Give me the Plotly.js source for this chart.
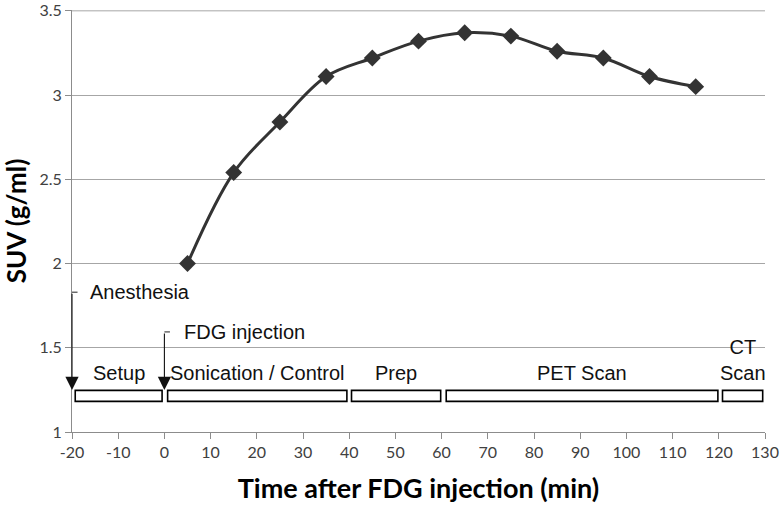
<!DOCTYPE html>
<html>
<head>
<meta charset="utf-8">
<script src="https://cdn.plot.ly/plotly-3.0.1.min.js"></script>
<style>html,body{margin:0;padding:0;background:#fff;}#chart{width:780px;height:507px;}</style>
</head>
<body>
<div id="chart"></div>
<script>
// ---- data ----
const timeMin = [5, 15, 25, 35, 45, 55, 65, 75, 85, 95, 105, 115];
const suv = [2.00, 2.54, 2.84, 3.11, 3.22, 3.32, 3.37, 3.35, 3.26, 3.22, 3.11, 3.05];

const phaseLabels = ['Setup', 'Sonication / Control', 'Prep', 'PET Scan', 'CT<br>Scan'];
const phaseStart = [-19.3, 0.7, 40.5, 61.0, 120.8];
const phaseEnd = [-0.5, 39.5, 59.8, 119.8, 129.5];

const eventLabels = ['Anesthesia', 'FDG injection'];
const eventTimes = [-20, 0];
const eventLevels = [1.83, 1.594];

const xTicks = [-20, -10, 0, 10, 20, 30, 40, 50, 60, 70, 80, 90, 100, 110, 120, 130];
const yTicks = [1, 1.5, 2, 2.5, 3, 3.5];

// ---- build ----
const boxBottom = 1.182, boxTop = 1.247;
const shapes = [];
const annotations = [];

phaseLabels.forEach((lab, i) => {
  shapes.push({type: 'rect', xref: 'x', yref: 'y', x0: phaseStart[i], x1: phaseEnd[i],
    y0: boxBottom, y1: boxTop, line: {color: '#000', width: 1.6}, fillcolor: '#fff', layer: 'above'});
  annotations.push({x: (phaseStart[i] + phaseEnd[i]) / 2, y: 1.272, xref: 'x', yref: 'y',
    text: lab, showarrow: false, xanchor: 'center', yanchor: 'bottom',
    font: {family: 'Liberation Sans, Arial, sans-serif', size: 20, color: '#111'}});
});

const textOffsets = [3.4, 3.8];
eventLabels.forEach((lab, i) => {
  shapes.push({type: 'line', xref: 'x', yref: 'y', x0: eventTimes[i], x1: eventTimes[i] + 1.2,
    y0: eventLevels[i], y1: eventLevels[i], line: {color: '#222', width: 1}});
  annotations.push({x: eventTimes[i], y: boxTop + 0.002, ax: eventTimes[i], ay: eventLevels[i],
    xref: 'x', yref: 'y', axref: 'x', ayref: 'y', text: '', showarrow: true,
    arrowhead: 2, arrowsize: 2.4, arrowwidth: 1.1, arrowcolor: '#111'});
  annotations.push({x: eventTimes[i] + textOffsets[i], y: eventLevels[i], xref: 'x', yref: 'y',
    text: lab, showarrow: false, xanchor: 'left', yanchor: 'middle',
    font: {family: 'Liberation Sans, Arial, sans-serif', size: 20, color: '#111'}});
});

// explicit top gridline (Plotly omits grid lines sitting on the plot edge)
const yTop = yTicks[yTicks.length - 1];
shapes.push({type: 'line', xref: 'x', yref: 'y', x0: xTicks[0], x1: xTicks[xTicks.length - 1],
  y0: yTop, y1: yTop, line: {color: '#a6a6a6', width: 1}, layer: 'above'});

const trace = {
  x: timeMin, y: suv, type: 'scatter', mode: 'lines+markers',
  line: {color: '#333', width: 3, shape: 'spline', smoothing: 1},
  marker: {symbol: 'diamond', size: 13, color: '#333'},
  cliponaxis: false, hoverinfo: 'skip'
};

const layout = {
  width: 780, height: 507,
  margin: {l: 72, r: 15, t: 10, b: 75},
  paper_bgcolor: '#fff', plot_bgcolor: '#fff',
  showlegend: false,
  font: {family: 'Lato, Open Sans, sans-serif', color: '#404040'},
  xaxis: {
    range: [-20, 130.0001], tickvals: xTicks, ticktext: xTicks.map(String),
    showgrid: false, zeroline: false, showline: true, linecolor: '#8c8c8c', linewidth: 1,
    ticks: 'outside', ticklen: 6, tickcolor: '#8c8c8c',
    tickfont: {family: 'Lato, sans-serif', size: 16, color: '#404040'},
    title: {text: 'Time after FDG injection (min)', standoff: 18,
      font: {family: 'Lato, sans-serif', size: 27, color: '#000', weight: 'bold'}},
    automargin: false, fixedrange: true
  },
  yaxis: {
    range: [1, 3.505], tickvals: yTicks, ticktext: ['1', '1.5', '2', '2.5', '3', '3.5'],
    showgrid: true, gridcolor: '#a6a6a6', gridwidth: 1, zeroline: false,
    showline: true, linecolor: '#8c8c8c', linewidth: 1,
    ticks: 'outside', ticklen: 6, tickcolor: '#8c8c8c', ticklabeloverflow: 'allow',
    tickfont: {family: 'Lato, sans-serif', size: 16, color: '#404040'},
    title: {text: 'SUV (g/ml)', standoff: 13,
      font: {family: 'Lato, sans-serif', size: 26, color: '#000', weight: 'bold'}},
    automargin: false, fixedrange: true
  },
  shapes: shapes,
  annotations: annotations
};

Plotly.newPlot('chart', [trace], layout, {staticPlot: true, displayModeBar: false});
</script>
</body>
</html>
